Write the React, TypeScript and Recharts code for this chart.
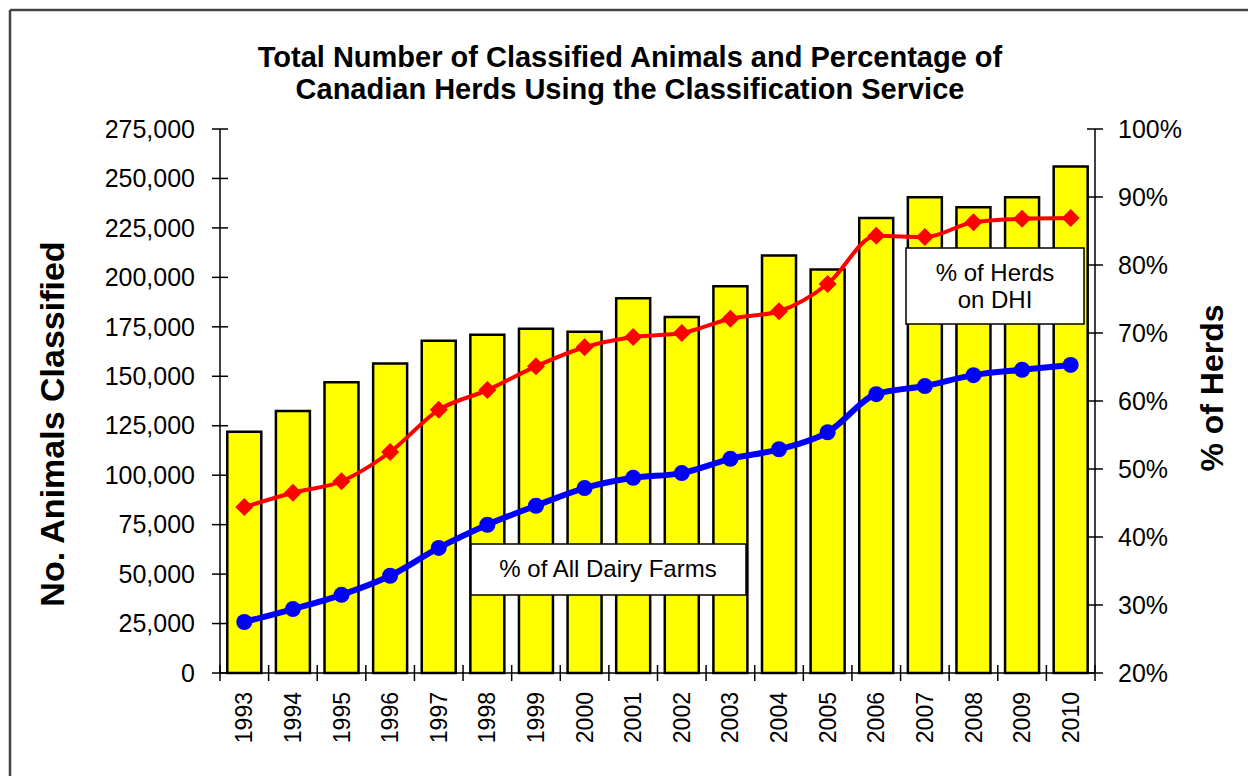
import React from 'react'
import { ComposedChart, Bar, Line, XAxis, YAxis } from 'recharts'

const years = ['1993', '1994', '1995', '1996', '1997', '1998', '1999', '2000', '2001', '2002', '2003', '2004', '2005', '2006', '2007', '2008', '2009', '2010']
const animalsClassified = [122000, 132500, 147000, 156500, 168000, 171000, 174000, 172500, 189500, 180000, 195500, 211000, 204000, 230000, 240500, 235500, 240500, 256000]
const herdsOnDhi = [44.4, 46.5, 48.2, 52.5, 58.7, 61.6, 65.1, 67.9, 69.4, 70.0, 72.1, 73.2, 77.2, 84.3, 84.1, 86.3, 86.8, 86.9]
const allDairyFarms = [27.5, 29.4, 31.5, 34.3, 38.4, 41.8, 44.6, 47.2, 48.7, 49.4, 51.5, 52.9, 55.4, 61.0, 62.2, 63.8, 64.6, 65.3]
const leftTicks = [0, 25000, 50000, 75000, 100000, 125000, 150000, 175000, 200000, 225000, 250000, 275000]
const rightTicks = [20, 30, 40, 50, 60, 70, 80, 90, 100]

const data = years.map((year, i) => ({
  year,
  animals: animalsClassified[i],
  dhi: herdsOnDhi[i],
  farms: allDairyFarms[i],
}))

const FONT = '"Liberation Sans", Arial, sans-serif'
const W = 1248
const H = 776
const M = { top: 129, right: 20, bottom: 13, left: 20 }
const LEFT_W = 200
const RIGHT_W = 133
const PLOT_W = W - M.left - M.right - LEFT_W - RIGHT_W
const BAND = PLOT_W / years.length

const LeftTick = (props: any) => {
  const { x, y, payload } = props
  return (
    <g>
      <line x1={x - 8} x2={x + 8} y1={y} y2={y} stroke="#000" strokeWidth={1.5} />
      <text x={x - 25} y={y} dy="0.35em" textAnchor="end" fontSize={25} fontFamily={FONT} fill="#000">
        {payload.value.toLocaleString('en-US')}
      </text>
    </g>
  )
}

const RightTick = (props: any) => {
  const { x, y, payload } = props
  return (
    <g>
      <line x1={x - 8} x2={x + 8} y1={y} y2={y} stroke="#000" strokeWidth={1.5} />
      <text x={x + 23} y={y} dy="0.35em" textAnchor="start" fontSize={25} fontFamily={FONT} fill="#000">
        {payload.value}%
      </text>
    </g>
  )
}

const YearTick = (props: any) => {
  const { x, y, payload, index } = props
  const ty = y + 19
  return (
    <g>
      <line x1={x - BAND / 2} x2={x - BAND / 2} y1={y - 8} y2={y + 8} stroke="#000" strokeWidth={1.5} />
      {index === years.length - 1 && (
        <line x1={x + BAND / 2} x2={x + BAND / 2} y1={y - 8} y2={y + 8} stroke="#000" strokeWidth={1.5} />
      )}
      <text x={x} y={ty} dy="0.35em" textAnchor="end" fontSize={23} fontFamily={FONT} fill="#000"
        transform={`rotate(-90, ${x}, ${ty})`}>
        {payload.value}
      </text>
    </g>
  )
}

const Diamond = (props: any) => {
  const { cx, cy } = props
  if (cx == null || cy == null) return null
  const s = 9
  return <path d={`M${cx},${cy - s}L${cx + s},${cy}L${cx},${cy + s}L${cx - s},${cy}Z`} fill="#ff0000" />
}

const Circle = (props: any) => {
  const { cx, cy } = props
  if (cx == null || cy == null) return null
  return <circle cx={cx} cy={cy} r={8} fill="#0000ff" />
}

export default function App() {
  return (
    <div style={{ position: 'absolute', left: 0, top: 0, width: W, height: H, background: '#fff', fontFamily: FONT }}>
      <ComposedChart width={W} height={H} data={data} margin={M} barCategoryGap="15%">
        <XAxis dataKey="year" height={90} tick={<YearTick />} tickLine={false} tickSize={0} tickMargin={0}
          axisLine={{ stroke: '#000', strokeWidth: 1.5 }} interval={0} />
        <YAxis yAxisId="left" width={LEFT_W} domain={[0, 275000]} ticks={leftTicks} tick={<LeftTick />}
          tickLine={false} tickSize={0} tickMargin={0} axisLine={{ stroke: '#000', strokeWidth: 1.5 }} interval={0} />
        <YAxis yAxisId="right" orientation="right" width={RIGHT_W} domain={[20, 100]} ticks={rightTicks}
          tick={<RightTick />} tickLine={false} tickSize={0} tickMargin={0}
          axisLine={{ stroke: '#000', strokeWidth: 1.5 }} interval={0} />
        <Bar yAxisId="left" dataKey="animals" fill="#ffff00" stroke="#000" strokeWidth={2.5} isAnimationActive={false} />
        <Line yAxisId="right" dataKey="dhi" type="monotone" stroke="#ff0000" strokeWidth={4}
          dot={<Diamond />} activeDot={false} isAnimationActive={false} />
        <Line yAxisId="right" dataKey="farms" type="monotone" stroke="#0000ff" strokeWidth={6}
          dot={<Circle />} activeDot={false} isAnimationActive={false} />
      </ComposedChart>
      <svg width={W} height={H} style={{ position: 'absolute', left: 0, top: 0, pointerEvents: 'none' }}>
        <line x1={10} x2={W} y1={10} y2={10} stroke="#444" strokeWidth={2.5} />
        <line x1={10} x2={10} y1={10} y2={H} stroke="#444" strokeWidth={2.5} />
        <text x={630} y={57} dy="0.35em" textAnchor="middle" fontSize={29} fontWeight="bold" fontFamily={FONT}>
          Total Number of Classified Animals and Percentage of
        </text>
        <text x={630} y={89} dy="0.35em" textAnchor="middle" fontSize={29} fontWeight="bold" fontFamily={FONT}>
          Canadian Herds Using the Classification Service
        </text>
        <text x={52} y={424} dy="0.35em" textAnchor="middle" fontSize={34} fontWeight="bold" fontFamily={FONT}
          transform="rotate(-90, 52, 424)">
          No. Animals Classified
        </text>
        <text x={1212} y={388} dy="0.35em" textAnchor="middle" fontSize={32} fontWeight="bold" fontFamily={FONT}
          transform="rotate(-90, 1212, 388)">
          % of Herds
        </text>
        <rect x={906} y={248} width={178} height={76} fill="#fff" stroke="#000" strokeWidth={1.5} />
        <text x={995} y={273} dy="0.35em" textAnchor="middle" fontSize={24} fontFamily={FONT}>% of Herds</text>
        <text x={995} y={300} dy="0.35em" textAnchor="middle" fontSize={24} fontFamily={FONT}>on DHI</text>
        <rect x={471} y={544} width={275} height={51} fill="#fff" stroke="#000" strokeWidth={1.5} />
        <text x={608} y={569} dy="0.35em" textAnchor="middle" fontSize={24} fontFamily={FONT}>% of All Dairy Farms</text>
      </svg>
    </div>
  )
}
